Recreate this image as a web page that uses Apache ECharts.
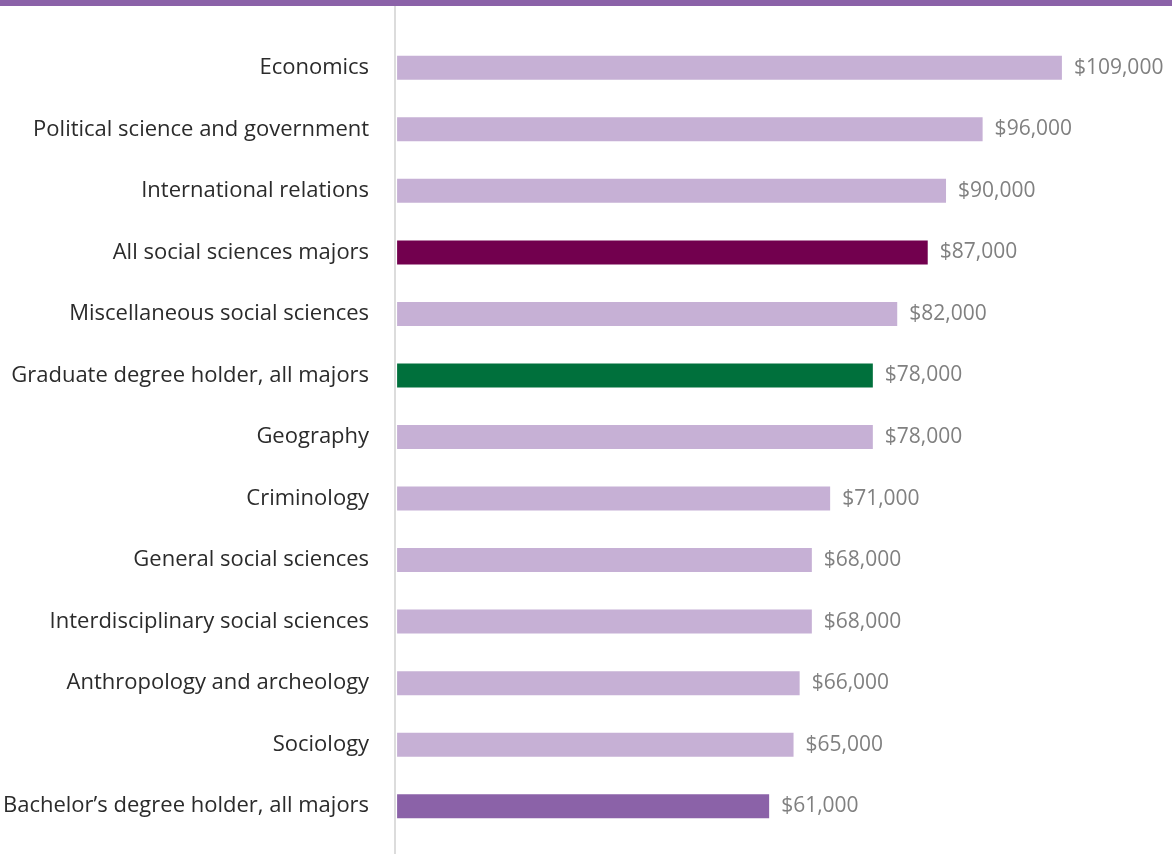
<!DOCTYPE html>
<html>
<head>
<meta charset="utf-8">
<script src="https://cdn.jsdelivr.net/npm/echarts@6/dist/echarts.min.js"></script>
<style>
html,body{margin:0;padding:0;background:#fff;}
#chart{width:1172px;height:854px;}
</style>
</head>
<body>
<div id="chart"></div>
<script>
const categories = [
  "Economics",
  "Political science and government",
  "International relations",
  "All social sciences majors",
  "Miscellaneous social sciences",
  "Graduate degree holder, all majors",
  "Geography",
  "Criminology",
  "General social sciences",
  "Interdisciplinary social sciences",
  "Anthropology and archeology",
  "Sociology",
  "Bachelor\u2019s degree holder, all majors"
];
const values = [109000, 96000, 90000, 87000, 82000, 78000, 78000, 71000, 68000, 68000, 66000, 65000, 61000];
const barKinds = ["major","major","major","allSocial","major","graduate","major","major","major","major","major","major","bachelor"];
const kindColors = {major:"#c6b0d5", allSocial:"#72004e", graduate:"#00703c", bachelor:"#8b62a8"};

const chart = echarts.init(document.getElementById('chart'), null, {renderer:'canvas'});
const font = '"Open Sans", "Noto Sans", sans-serif';
chart.setOption({
  animation:false,
  grid:{left:396, right:43, top:37, bottom:17, containLabel:false},
  xAxis:{type:'value', min:0, max:120000, show:false},
  yAxis:{
    type:'category', inverse:true, data:categories,
    axisLine:{show:false}, axisTick:{show:false},
    axisLabel:{color:'#2b2b2b', fontSize:22, fontFamily:font, margin:28, padding:[7,0,0,0]}
  },
  graphic:[
    {type:'rect', shape:{x:0,y:0,width:1172,height:6}, style:{fill:'#8b62a8'}},
    {type:'line', shape:{x1:395,y1:6,x2:395,y2:854}, style:{stroke:'#dcdcdc', lineWidth:2}}
  ],
  series:[{
    type:'bar',
    barWidth:24,
    data: values.map((v,i)=>({value:v, itemStyle:{color:kindColors[barKinds[i]]}})),
    label:{
      show:true, position:'right', distance:12,
      color:'#808080', fontSize:21, fontFamily:font, padding:[3,0,0,0],
      formatter:p=>'$'+p.value.toLocaleString('en-US')
    }
  }]
});
</script>
</body>
</html>
